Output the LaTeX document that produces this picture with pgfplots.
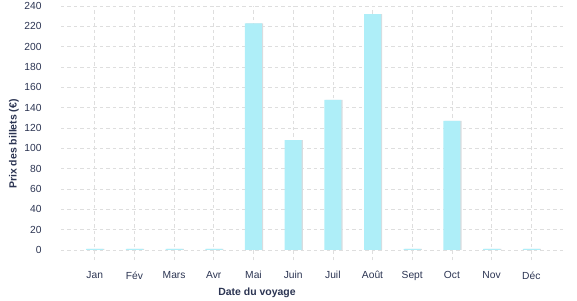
\documentclass[border=0pt]{standalone}
\usepackage{fontspec}
\setmainfont{Liberation Sans}
\usepackage{pgfplots}
\pgfplotsset{compat=1.18}
\definecolor{barcol}{HTML}{AEEEF8}
\definecolor{shadowcol}{HTML}{D8DCDF}
\definecolor{txt}{HTML}{2B3452}
\definecolor{gridc}{HTML}{DEDEDE}
\begin{document}
\begin{tikzpicture}[x=1bp,y=1bp]
\path[use as bounding box] (-61,-40) rectangle (516,260);
\begin{axis}[
  at={(0,0)}, anchor=south west,
  scale only axis, width=504bp, height=254bp,
  xmin=-0.85, xmax=11.85, ymin=-10, ymax=240,
  xtick={0,...,11},
  xticklabels={Jan,Fév,Mars,Avr,Mai,Juin,Juil,Août,Sept,Oct,Nov,Déc},
  ytick={0,20,...,240},
  axis line style={draw=none},
  major tick length=0pt,
  grid=major,
  grid style={gridc, dash pattern=on 3.5pt off 3pt, line width=0.6pt},
  tick label style={font=\fontsize{10.3}{12}\selectfont, text=txt},
  /pgf/number format/assume math mode=true,
  yticklabel style={xshift=-16pt},
  xticklabel style={yshift=-8pt},
  ybar, bar width=17bp,
  clip=false,
]
\addplot[fill=shadowcol, draw=none, bar shift=1.2bp] coordinates {
(0,1) (1,1) (2,1) (3,1) (4,223) (5,108) (6,147.5) (7,232) (8,1) (9,127) (10,1) (11,1)};
\addplot[fill=barcol, draw=none, bar shift=0bp] coordinates {
(0,1) (1,1) (2,1) (3,1) (4,223) (5,108) (6,147.5) (7,232) (8,1) (9,127) (10,1) (11,1)};
\end{axis}
\node[font=\bfseries\fontsize{10.5}{12}\selectfont, text=txt] at (196,-33) {Date du voyage};
\node[font=\bfseries\fontsize{10.5}{12}\selectfont, text=txt, rotate=90] at (-47,116) {Prix des billets (€)};
\end{tikzpicture}
\end{document}
